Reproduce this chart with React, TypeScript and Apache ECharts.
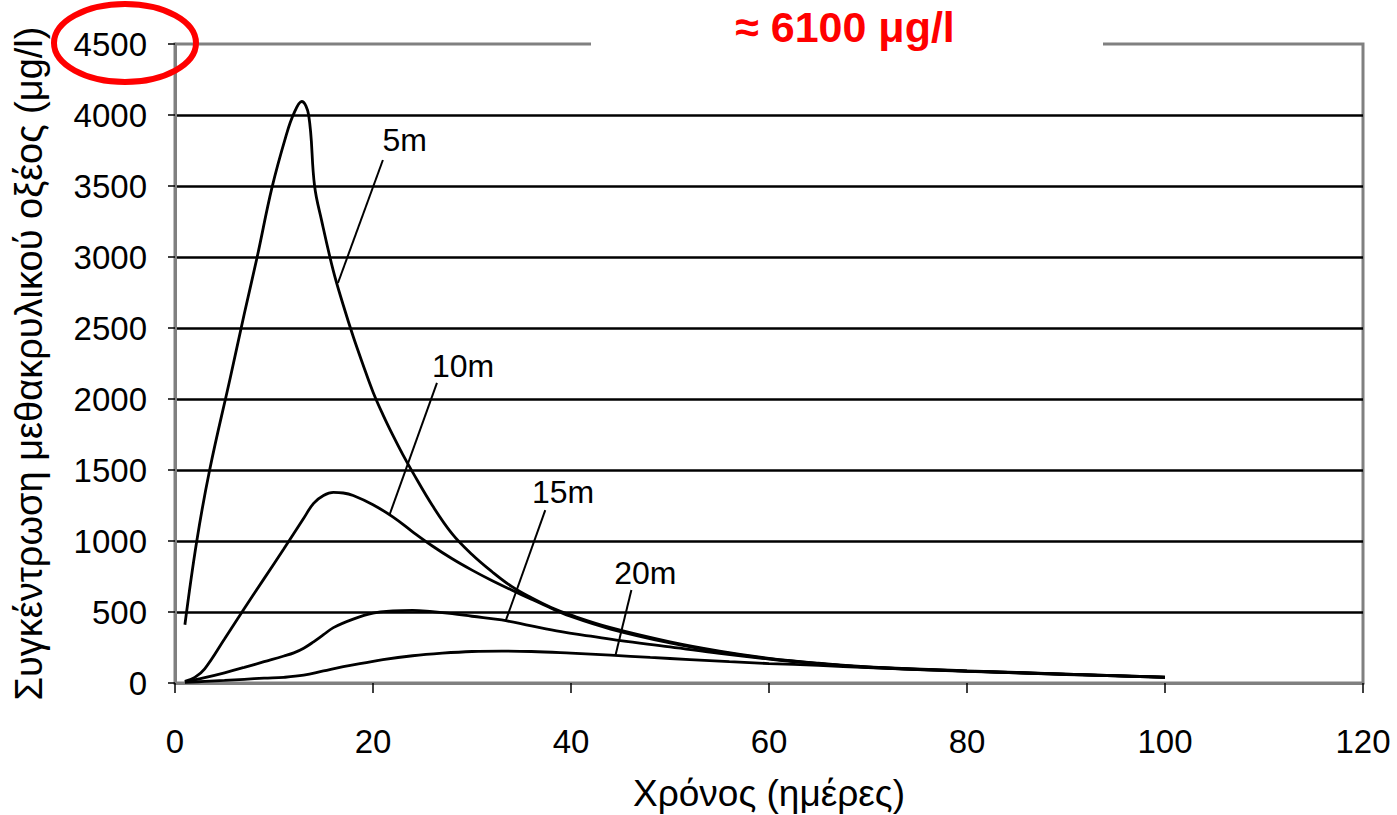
import React, { useEffect, useRef } from 'react';
import * as echarts from 'echarts';

const FONT = "'Liberation Sans', Arial, sans-serif";

const yAxisTitle = 'Συγκέντρωση μεθακρυλικού οξέος (μg/l)';
const xAxisTitle = 'Χρόνος (ημέρες)';
const noteText = '≈ 6100 μg/l';

const series5m: [number, number][] = [
  [1, 410], [2.2, 1000], [3.5, 1500], [5.6, 2155], [7, 2600], [8.3, 3000], [9.8, 3490], [11.2, 3850],
  [12, 4010], [12.8, 4095], [13.5, 4000], [14.1, 3500], [14.8, 3260],
  [16, 2900], [17, 2660], [18, 2440], [19, 2240], [20, 2050], [21, 1890], [22, 1745], [23, 1610],
  [24, 1485], [26, 1250], [28, 1050], [30, 905], [32, 785], [34, 680], [36, 600], [38, 532],
  [40, 478], [44, 390], [50, 290], [55, 225], [60, 174], [65, 139], [70, 114], [80, 86], [90, 63], [100, 42],
];
const series10m: [number, number][] = [
  [1, 12], [2, 40], [3, 100], [5, 310], [7, 525], [9, 735], [11, 945], [13, 1160], [14, 1265],
  [15, 1320], [16, 1342], [17, 1338], [18, 1320], [20, 1255], [22, 1170], [24, 1065], [26, 965],
  [28, 875], [30, 795], [32, 722], [34, 655], [36, 590], [38, 527], [40, 468], [44, 380], [50, 282],
  [55, 219], [60, 171], [65, 137], [70, 112], [80, 84], [90, 62], [100, 41],
];
const series15m: [number, number][] = [
  [1, 8], [3, 38], [5, 72], [7, 110], [9, 150], [11, 190], [12, 212], [13, 245], [14, 290],
  [15, 340], [16, 390], [18, 450], [20, 492], [22, 508], [24, 512], [26, 502], [28, 488],
  [30, 470], [33, 444], [36, 402], [39, 362], [42, 330], [45, 298], [50, 255], [55, 208],
  [60, 168], [65, 135], [70, 111], [80, 84], [90, 61], [100, 40],
];
const series20m: [number, number][] = [
  [1, 4], [3, 11], [5, 18], [7, 26], [9, 34], [11, 40], [13, 55], [15, 85], [17, 115], [19, 140],
  [21, 165], [24, 192], [27, 210], [30, 222], [33, 225], [36, 222], [40, 210], [44, 196],
  [48, 180], [52, 165], [56, 150], [60, 137], [65, 124], [70, 108], [80, 82], [90, 60], [100, 39],
];

const seriesNames = ['5m', '10m', '15m', '20m'];
const seriesData = [series5m, series10m, series15m, series20m];
const labelAnchors: [number, number][] = [[23.2, 3824], [29.1, 2232], [39.2, 1345], [47.5, 775]];
const leaderFrom: [number, number][] = [[21.0, 3683], [26.46, 2113], [37.4, 1218], [46.1, 655]];
const leaderTo: [number, number][] = [[16.46, 2817], [21.7, 1190], [33.4, 437], [44.5, 197]];

export default function App() {
  const ref = useRef<HTMLDivElement>(null);
  useEffect(() => {
    if (!ref.current) return;
    const chart = echarts.init(ref.current, null, { renderer: 'svg' });
    const series: any[] = seriesNames.map((name, i) => ({
      name,
      type: 'line',
      data: seriesData[i],
      smooth: 0.4,
      symbol: 'none',
      lineStyle: { color: '#000', width: 2.8 },
      z: 3,
      markLine: {
        silent: true,
        symbol: ['none', 'none'],
        lineStyle: { color: '#000', width: 2, type: 'solid' },
        label: { show: false },
        data: [[{ coord: leaderFrom[i] }, { coord: leaderTo[i] }]],
      },
      markPoint: {
        silent: true,
        symbol: 'rect',
        symbolSize: 1,
        itemStyle: { color: 'rgba(0,0,0,0)' },
        label: { show: true, formatter: name, color: '#000', fontSize: 32, fontFamily: FONT, position: 'inside' },
        data: [{ coord: labelAnchors[i] }],
      },
    }));
    chart.setOption({
      animation: false,
      backgroundColor: '#fff',
      grid: {
        left: 175, top: 44, right: 34, bottom: 132, outerBoundsMode: 'none', containLabel: false,
        show: true, borderColor: '#808080', borderWidth: 3,
      },
      xAxis: {
        type: 'value', min: 0, max: 120, interval: 20,
        name: xAxisTitle, nameLocation: 'middle', nameGap: 92,
        nameTextStyle: { fontSize: 37, fontFamily: FONT, color: '#000' },
        axisLine: { show: true, lineStyle: { color: '#808080', width: 3 } },
        axisTick: { show: true, length: 10, lineStyle: { color: '#000', width: 1.5 } },
        axisLabel: { fontSize: 33, fontFamily: FONT, color: '#000', margin: 42, formatter: (v: number) => String(v) },
        splitLine: { show: false },
      },
      yAxis: {
        type: 'value', min: 0, max: 4500, interval: 500,
        name: yAxisTitle, nameLocation: 'middle', nameGap: 127,
        nameTextStyle: { fontSize: 38, fontFamily: FONT, color: '#000' },
        axisLine: { show: true, lineStyle: { color: '#808080', width: 3 } },
        axisTick: { show: true, length: 7, lineStyle: { color: '#000', width: 1.5 } },
        axisLabel: { fontSize: 33, fontFamily: FONT, color: '#000', margin: 28, formatter: (v: number) => String(v) },
        splitLine: { show: true, showMinLine: false, showMaxLine: false, lineStyle: { color: '#000', width: 2.5 } },
      },
      series,
      graphic: [
        { type: 'rect', z: 100, shape: { x: 591, y: 39, width: 512, height: 10 }, style: { fill: '#fff' } },
        {
          type: 'text', z: 101, x: 845, y: 27,
          style: { text: noteText, fill: '#ff0000', fontSize: 43, fontWeight: 'bold', fontFamily: FONT, align: 'center', verticalAlign: 'middle' },
        },
        {
          type: 'ellipse', z: 102, shape: { cx: 125, cy: 43, rx: 71, ry: 39 },
          style: { fill: 'none', stroke: '#ff0000', lineWidth: 6 },
        },
      ],
    });
    return () => chart.dispose();
  }, []);
  return <div ref={ref} style={{ position: 'fixed', left: 0, top: 0, width: 1397, height: 815 }} />;
}
